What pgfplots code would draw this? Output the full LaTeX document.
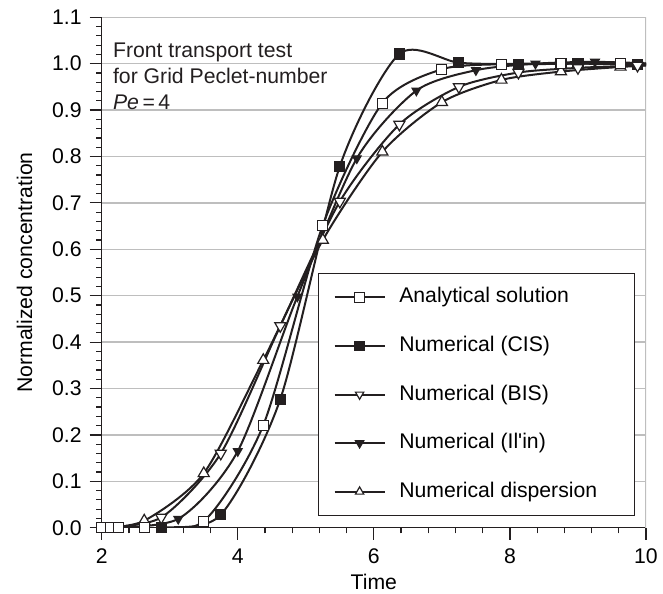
\documentclass[border=0pt]{standalone}
\usepackage{pgfplots}
\pgfplotsset{compat=1.18}
\usepackage{pgfplotstable}
\usepackage{fontspec}
\setmainfont{Liberation Sans}
\usetikzlibrary{calc}
\definecolor{ink}{RGB}{35,31,32}
\definecolor{gridgray}{RGB}{190,190,190}

\pgfplotstableread{
x y
2.0 0
2.125 0
2.25 0
2.625 0
3.5 0.014
4.375 0.221
5.25 0.652
6.125 0.915
7.0 0.988
7.875 0.999
8.75 1.0
9.625 1.0
10.5 1.0
}\analytical

\pgfplotstableread{
x y
2.0 0
2.875 0.0
3.75 0.028
4.625 0.277
5.5 0.779
6.375 1.021
7.25 1.002
8.125 0.999
9.0 1.0
9.875 0.999
10.75 1.0
}\cis

\pgfplotstableread{
x y
2.0 0
2.875 0.022
3.75 0.160
4.625 0.435
5.5 0.703
6.375 0.869
7.25 0.950
8.125 0.981
9.0 0.991
9.875 0.996
10.75 1.0
}\bis

\pgfplotstableread{
x y
2.0 0
3.125 0.019
4.0 0.165
4.875 0.498
5.75 0.796
6.625 0.942
7.5 0.986
8.375 1.0
9.25 1.004
10.125 1.0
}\ilin

\pgfplotstableread{
x y
2.0 0
2.625 0.015
3.5 0.117
4.375 0.361
5.25 0.620
6.125 0.810
7.0 0.917
7.875 0.965
8.75 0.983
9.625 0.993
10.5 1.0
}\disp

\begin{document}
\fontsize{10.6bp}{12.75bp}\selectfont
\begin{tikzpicture}
\begin{axis}[
  scale only axis,
  width=272.15bp, height=255.2bp,
  xmin=2, xmax=10, ymin=0, ymax=1.1,
  axis x line*=bottom, axis y line*=left,
  axis line style={ink, line width=0.75bp, -},
  xtick={2,4,6,8,10},
  ytick={0,0.1,0.2,0.3,0.4,0.5,0.6,0.7,0.8,0.9,1.0,1.1},
  minor x tick num=4, minor y tick num=4,
  tick align=outside,
  major tick length=6bp, minor tick length=2.8bp,
  every tick/.style={ink, line width=0.6bp},
  ymajorgrids, grid style={gridgray, line width=0.7bp},
  /pgf/number format/assume math mode=true,
  yticklabel style={/pgf/number format/.cd, fixed, fixed zerofill, precision=1, /tikz/.cd, anchor=east, inner sep=0pt, xshift=-3.85bp},
  xticklabel style={anchor=north, inner sep=0pt, yshift=-4.35bp},
  every axis x label/.style={at={(axis description cs:0.5,0)}, anchor=center, yshift=-27bp},
  every axis y label/.style={at={([xshift=-38.6bp]axis description cs:0,0.5)}, anchor=center, rotate=90},
  xlabel={Time}, ylabel={Normalized concentration},
  every axis plot/.append style={ink, line width=1bp, smooth, tension=0.45},
  legend style={at={(0.3974,0.499)}, anchor=north west, draw=ink, line width=0.6bp, fill=white,
    inner xsep=7.5bp, inner ysep=6.6bp, row sep=13.8bp, column sep=6.85bp,
    nodes={inner sep=0pt, text height=8bp, text depth=2.5bp}},
  legend cell align=left,
  legend image code/.code={\draw[#1, mark indices={2}] plot coordinates {(0bp,0bp)(12.5bp,0bp)(25bp,0bp)};},
  legend image post style={mark size=2.4bp},
]
\coordinate (sw) at (rel axis cs:0,0);
\coordinate (ne) at (rel axis cs:1,1);
\draw[gridgray, line width=0.7bp] (rel axis cs:1,0) -- (rel axis cs:1,1);

\addlegendimage{mark=square*, mark options={fill=white, solid, line width=0.6bp}}
\addlegendentry{\makebox[110bp][l]{Analytical solution}}

\addplot[mark=square*, mark size=2.5bp, mark options={fill=ink, solid, line width=0.6bp}, mark indices={2,3,4,5,6,7,8,9,10,11}] table[x=x,y=y] {\cis};
\addlegendentry{\makebox[110bp][l]{Numerical (CIS)}}

\addplot[mark=triangle*, mark size=3.2bp, mark options={fill=white, rotate=180, solid, line width=0.6bp}, mark indices={2,3,4,5,6,7,8,9,10,11}] table[x=x,y=y] {\bis};
\addlegendentry{\makebox[110bp][l]{Numerical (BIS)}}

\addplot[mark=triangle*, mark size=2.5bp, mark options={fill=ink, rotate=180, solid, line width=0.6bp}, mark indices={2,3,4,5,6,7,8,9,10}] table[x=x,y=y] {\ilin};
\addlegendentry{\makebox[110bp][l]{Numerical (Il\textquotesingle in)}}

\addplot[mark=triangle*, mark size=3.2bp, mark options={fill=white, solid, line width=0.6bp}, mark indices={2,3,4,5,6,7,8,9,10,11}] table[x=x,y=y] {\disp};
\addlegendentry{\makebox[110bp][l]{Numerical dispersion}}

\addplot[forget plot, mark=square*, mark size=2.5bp, mark options={fill=white, solid, line width=0.6bp}] table[x=x,y=y] {\analytical};

\node[anchor=base west, inner sep=0pt, ink] at ([xshift=5.5bp, yshift=-20.1bp]rel axis cs:0,1) {Front transport test};
\node[anchor=base west, inner sep=0pt, ink] at ([xshift=5.5bp, yshift=-33.1bp]rel axis cs:0,1) {for Grid Peclet-number};
\node[anchor=base west, inner sep=0pt, ink] at ([xshift=5.5bp, yshift=-46.1bp]rel axis cs:0,1) {\textit{Pe}\,=\,4};
\end{axis}
\pgfresetboundingbox
\path ($(sw)+(-50.85bp,-33.15bp)$) rectangle ($(ne)+(8.5bp,8.65bp)$);
\end{tikzpicture}
\end{document}
